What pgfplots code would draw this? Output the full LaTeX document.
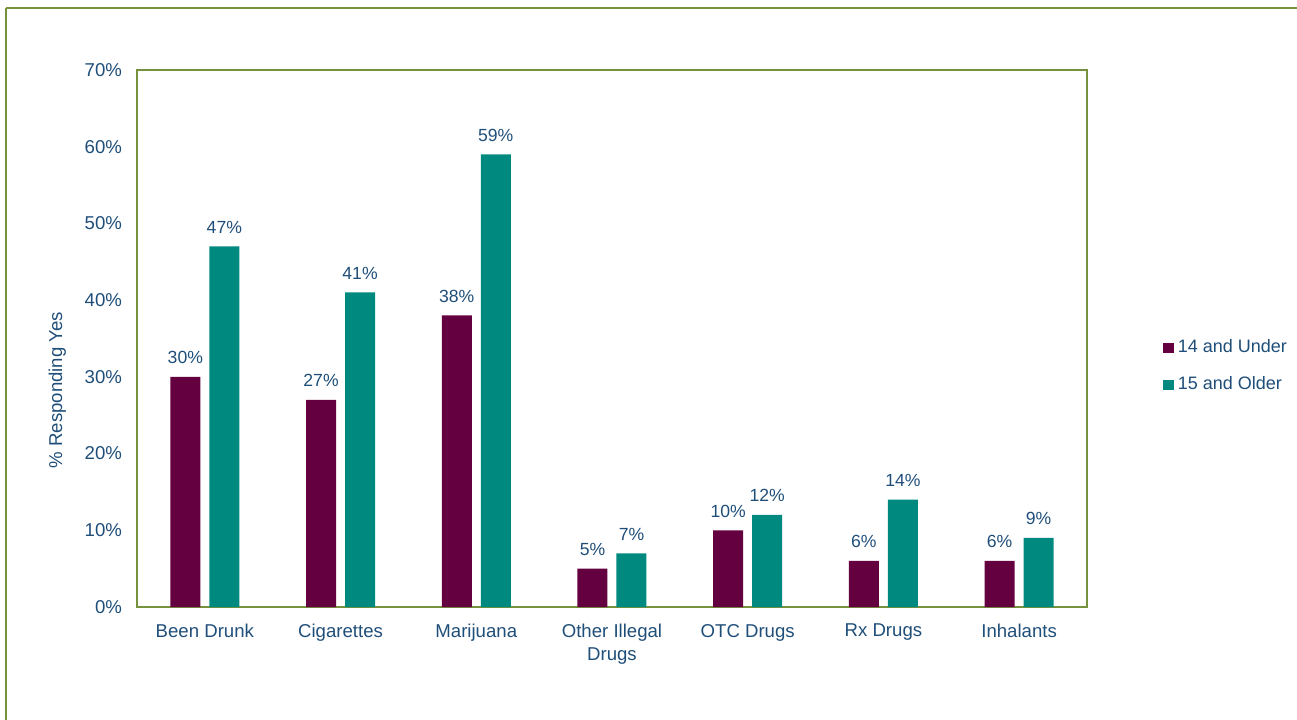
\documentclass[border=0pt]{standalone}
\usepackage{pgfplots}
\pgfplotsset{compat=1.18}
\usepackage{fontspec}
\setmainfont{Liberation Sans}

\definecolor{under}{HTML}{650040}
\definecolor{older}{HTML}{00897F}
\definecolor{txt}{HTML}{1F4E79}
\definecolor{frame}{HTML}{76923C}

\begin{document}
\begin{tikzpicture}
% picture area 1297 x 719 px, 1 px = 0.5pt
\path[use as bounding box, clip] (0pt,0pt) rectangle (648.5pt,359.5pt);
\draw[frame, line width=1.3pt] (3pt,355.5pt) -- (660pt,355.5pt);
\draw[frame, line width=1.3pt] (3pt,355.5pt) -- (3pt,-10pt);

\begin{axis}[
    at={(68.5pt,56pt)}, anchor=south west,
    width=475pt, height=268.5pt,
    scale only axis,
    ybar=4.5pt,
    bar width=15pt,
    xmin=-0.5, xmax=6.5,
    ymin=0, ymax=70,
    xtick=data,
    xticklabels={Been Drunk, Cigarettes, Marijuana, Other Illegal\\Drugs, OTC Drugs, Rx Drugs, Inhalants},
    ytick={0,10,...,70},
    yticklabel={\pgfmathprintnumber{\tick}\%},
    /pgf/number format/assume math mode=true,
    major tick length=0pt,
    axis line style={frame, line width=0.9pt},
    x tick label style={font=\fontsize{9.3}{11.5}\selectfont, text=txt, align=center, yshift=-5pt},
    y tick label style={font=\fontsize{9.3}{11}\selectfont, text=txt, xshift=-4pt},
    ylabel={\% Responding Yes},
    ylabel style={font=\fontsize{9.3}{11}\selectfont, text=txt, at={(axis description cs:-0.084,0.404)}, anchor=center},
    nodes near coords={\pgfmathprintnumber{\pgfplotspointmeta}\%},
    nodes near coords style={font=\fontsize{8.8}{10}\selectfont, text=txt, anchor=south, yshift=3pt},
    legend style={at={(axis description cs:1.08,0.506)}, anchor=north west, draw=none, fill=none,
        font=\fontsize{9}{11}\selectfont, text=txt, row sep=6.5pt, inner sep=0pt,
        /tikz/every odd column/.style={column sep=0pt}},
    legend cell align=left,
    legend image code/.code={\fill[#1] (0pt,-2.6pt) rectangle (5.2pt,2.6pt);},
]
\addplot[fill=under, draw=none] coordinates {(0,30) (1,27) (2,38) (3,5) (4,10) (5,6) (6,6)};
\addlegendentry{14 and Under}
\addplot[fill=older, draw=none] coordinates {(0,47) (1,41) (2,59) (3,7) (4,12) (5,14) (6,9)};
\addlegendentry{15 and Older}
\end{axis}
\end{tikzpicture}
\end{document}
